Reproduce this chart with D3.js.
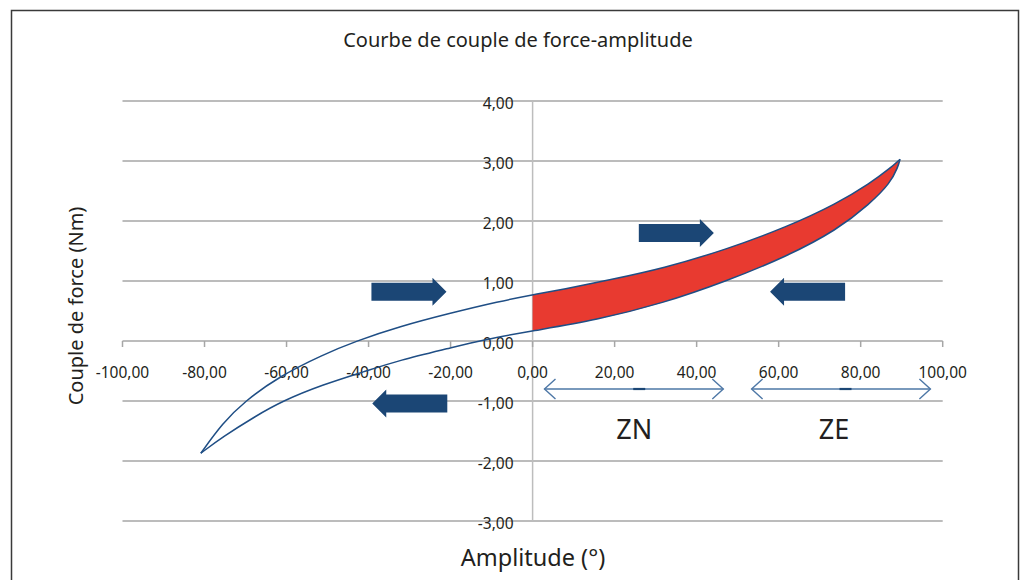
<!DOCTYPE html>
<html>
<head>
<meta charset="utf-8">
<script src="https://cdn.jsdelivr.net/npm/d3@7"></script>
<style>
  body { margin: 0; background: #fff; }
  svg text { font-family: "Noto Sans", "Open Sans", sans-serif; fill: #231f20; }
</style>
</head>
<body>
<div class="chart_box"></div>
<script>
// loading branch (angle rising)
var loadX = [-80.9, -75.6, -70.3, -61.8, -51.2, -43.0, -32.5, -20.3, -8.1, 0, 7.4, 18.8, 31.8, 47.0, 62.0, 74.2, 82.3, 87.2, 89.6];
var loadY = [-1.87, -1.37, -1.01, -0.59, -0.23, 0.00, 0.24, 0.46, 0.66, 0.77, 0.86, 1.02, 1.21, 1.52, 1.90, 2.29, 2.63, 2.88, 3.03];
// unloading branch (angle falling)
var unloadX = [89.6, 89.1, 87.2, 82.3, 74.2, 62.0, 47.0, 31.8, 15.6, 0, -12.1, -20.3, -32.5, -41.0, -51.3, -61.0, -67.5, -75.6, -80.9];
var unloadY = [3.03, 2.90, 2.63, 2.29, 1.85, 1.41, 0.99, 0.63, 0.35, 0.17, 0.02, -0.12, -0.32, -0.51, -0.73, -1.00, -1.25, -1.60, -1.87];

var xTicks = [-100, -80, -60, -40, -20, 0, 20, 40, 60, 80, 100];
var yTicks = [4, 3, 2, 1, 0, -1, -2, -3];

// direction arrows: tail x, tip x, y (data units)
var arrowTail = [-39.3, -20.8, 25.9, 76.2];
var arrowTip  = [-21.0, -39.1, 44.2, 57.9];
var arrowY    = [0.82, -1.04, 1.80, 0.82];

// zones below the axis
var zoneNames = ["ZN", "ZE"];
var zoneFrom  = [2.9, 53.4];
var zoneTo    = [46.5, 97.0];
var zoneMark  = [26.0, 76.3];
var zoneLabelX = [24.8, 73.5];
var zoneArrowY = -0.8;
var zoneLabelY = -1.63;

var fmt = function(v) { return d3.format(".2f")(v).replace(".", ",").replace("\u2212", "-"); };

var width = 1022, height = 580;
var svg = d3.select(".chart_box").append("svg")
    .attr("width", width)
    .attr("height", height);

svg.append("rect")
    .attr("x", 11.5).attr("y", 10.5)
    .attr("width", 1007).attr("height", 600)
    .attr("fill", "#fff")
    .attr("stroke", "#3a3a3a")
    .attr("stroke-width", 1.5);

var x = d3.scaleLinear().domain([-100, 100]).range([122.5, 942.7]);
var y = d3.scaleLinear().domain([-3, 4]).range([521, 101]);

// grid
svg.append("g").selectAll("line")
    .data(yTicks)
    .enter().append("line")
    .attr("x1", x(-100)).attr("x2", x(100))
    .attr("y1", function(d) { return y(d); })
    .attr("y2", function(d) { return y(d); })
    .attr("stroke", "#a6a6a6")
    .attr("stroke-width", 1.5);

// vertical axis at 0
svg.append("line")
    .attr("x1", x(0)).attr("x2", x(0))
    .attr("y1", y(4)).attr("y2", y(-3))
    .attr("stroke", "#bdbdbd")
    .attr("stroke-width", 1.5);

// x ticks on the 0 line
svg.append("g").selectAll("line")
    .data(xTicks)
    .enter().append("line")
    .attr("x1", function(d) { return x(d); })
    .attr("x2", function(d) { return x(d); })
    .attr("y1", y(0)).attr("y2", y(0) + 6)
    .attr("stroke", "#a6a6a6")
    .attr("stroke-width", 1.5);

svg.append("g").selectAll("text")
    .data(xTicks)
    .enter().append("text")
    .attr("x", function(d) { return x(d); })
    .attr("y", y(0) + 37)
    .attr("text-anchor", "middle")
    .attr("font-size", "15.5px")
    .text(fmt);

svg.append("g").selectAll("text")
    .data(yTicks)
    .enter().append("text")
    .attr("x", x(0) - 19)
    .attr("y", function(d) { return y(d) + 8; })
    .attr("text-anchor", "end")
    .attr("font-size", "15.5px")
    .text(fmt);

// curves
var load = loadX.map(function(v, i) { return [v, loadY[i]]; });
var unload = unloadX.map(function(v, i) { return [v, unloadY[i]]; });

var line = d3.line()
    .x(function(d) { return x(d[0]); })
    .y(function(d) { return y(d[1]); })
    .curve(d3.curveBasis);

var loadPos = load.filter(function(d) { return d[0] >= 0; });
var unloadPos = unload.filter(function(d) { return d[0] >= 0; });
svg.append("path")
    .attr("d", line(loadPos) + "L" + line(unloadPos).slice(1) + "Z")
    .attr("fill", "#e83a30")
    .attr("stroke", "none");

[load, unload].forEach(function(branch) {
  svg.append("path")
      .attr("d", line(branch))
      .attr("fill", "none")
      .attr("stroke", "#1f4e85")
      .attr("stroke-width", 1.5);
});

// block arrows
arrowTail.forEach(function(t, i) {
  var x0 = x(t), x1 = x(arrowTip[i]), yc = y(arrowY[i]);
  var dir = x1 > x0 ? 1 : -1;
  var hb = x1 - dir * 14;
  var pts = [[x0, yc - 9], [hb, yc - 9], [hb, yc - 14], [x1, yc], [hb, yc + 14], [hb, yc + 9], [x0, yc + 9]];
  svg.append("polygon")
      .attr("points", pts.map(function(p) { return p.join(","); }).join(" "))
      .attr("fill", "#1b4675");
});

// zone arrows
zoneNames.forEach(function(name, i) {
  var a = x(zoneFrom[i]), b = x(zoneTo[i]), yy = y(zoneArrowY);
  var g = svg.append("g")
      .attr("fill", "none")
      .attr("stroke", "#4d77a6")
      .attr("stroke-width", 1.4);
  g.append("line").attr("x1", a).attr("x2", b).attr("y1", yy).attr("y2", yy);
  g.append("polyline").attr("points", (a + 11) + "," + (yy - 10) + " " + a + "," + yy + " " + (a + 11) + "," + (yy + 10));
  g.append("polyline").attr("points", (b - 11) + "," + (yy - 10) + " " + b + "," + yy + " " + (b - 11) + "," + (yy + 10));
  svg.append("line")
      .attr("x1", x(zoneMark[i]) - 6).attr("x2", x(zoneMark[i]) + 6)
      .attr("y1", yy).attr("y2", yy)
      .attr("stroke", "#1b4675")
      .attr("stroke-width", 2.2);
  svg.append("text")
      .attr("x", x(zoneLabelX[i]))
      .attr("y", y(zoneLabelY))
      .attr("text-anchor", "middle")
      .attr("font-size", "27px")
      .text(name);
});

// titles
svg.append("text")
    .attr("x", 518).attr("y", 47)
    .attr("text-anchor", "middle")
    .attr("font-size", "20px")
    .text("Courbe de couple de force-amplitude");

svg.append("text")
    .attr("x", 533).attr("y", 566)
    .attr("text-anchor", "middle")
    .attr("font-size", "23.5px")
    .text("Amplitude (°)");

svg.append("text")
    .attr("transform", "translate(83,306) rotate(-90)")
    .attr("text-anchor", "middle")
    .attr("font-size", "20px")
    .text("Couple de force (Nm)");
</script>
</body>
</html>
